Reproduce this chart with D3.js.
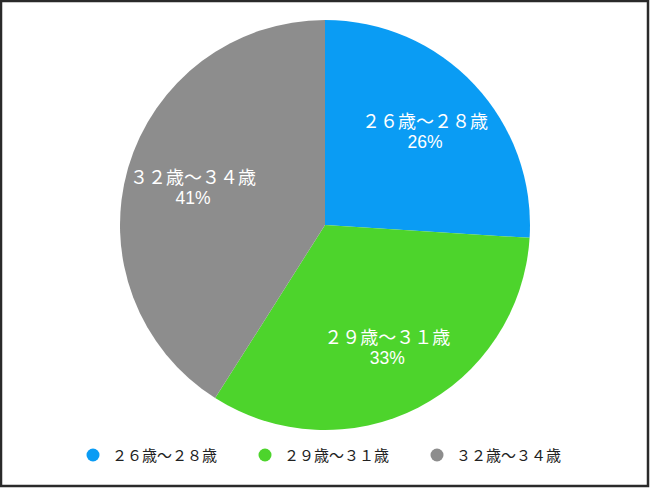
<!DOCTYPE html>
<html>
<head>
<meta charset="utf-8">
<script src="https://cdn.jsdelivr.net/npm/d3@7"></script>
<style>
  body { margin: 0; background: #fff; }
  text { font-family: "Noto Sans CJK JP", "Noto Sans", sans-serif; }
</style>
</head>
<body>
<script>
// data
var categories = ["２６歳～２８歳", "２９歳～３１歳", "３２歳～３４歳"];
var values = [26, 33, 41];
var colors = ["#0a9cf4", "#4dd42c", "#8d8d8d"];

var width = 650, height = 488;
var radius = 205;
var cx = 325, cy = 225;

var svg = d3.select("body").append("svg")
            .attr("width", width)
            .attr("height", height);

// frame
svg.append("rect")
   .attr("x", 1).attr("y", 1)
   .attr("width", 647).attr("height", 485)
   .style("fill", "none")
   .style("stroke", "#2a2a2a")
   .style("stroke-width", 2.5);

var pie = d3.pie().sort(null).value(function(d){ return d; });
var arcs = pie(values);

var arc = d3.arc().innerRadius(0).outerRadius(radius);
var labelArc = d3.arc().innerRadius(radius*0.67).outerRadius(radius*0.67);

var g = svg.append("g").attr("transform", "translate(" + cx + "," + cy + ")");

g.selectAll("path")
 .data(arcs)
 .enter().append("path")
 .attr("d", arc)
 .style("fill", function(d, i){ return colors[i]; });

//slice labels, two lines each
var lbl = g.selectAll("g.lbl")
 .data(arcs)
 .enter().append("g")
 .attr("class", "lbl")
 .attr("transform", function(d){ return "translate(" + labelArc.centroid(d) + ")"; });

lbl.append("text")
   .attr("y", -3)
   .attr("text-anchor", "middle")
   .style("fill", "#fff")
   .style("font-size", "18px")
   .text(function(d, i){ return categories[i]; });
lbl.append("text")
   .attr("y", 17)
   .attr("text-anchor", "middle")
   .style("fill", "#fff")
   .style("font-family", "'Liberation Sans', Arial, sans-serif")
   .style("font-size", "17.5px")
   .text(function(d){ return d.value + "%"; });

// legend
var legendX = [93, 265, 437];
var leg = svg.selectAll("g.leg")
 .data(categories)
 .enter().append("g")
 .attr("class", "leg")
 .attr("transform", function(d, i){ return "translate(" + legendX[i] + ",455)"; });

leg.append("circle").attr("r", 6.5).style("fill", function(d, i){ return colors[i]; });
leg.append("text")
   .attr("x", 19).attr("y", 5.5)
   .style("font-size", "15px")
   .style("fill", "#222")
   .text(function(d){ return d; });
</script>
</body>
</html>
